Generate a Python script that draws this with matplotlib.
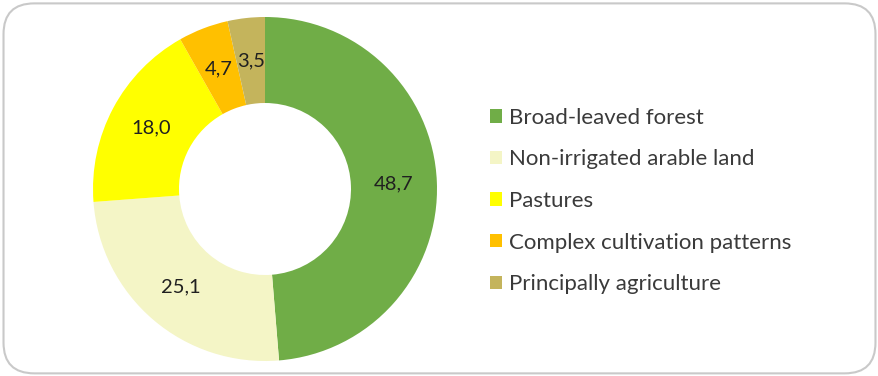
import matplotlib
matplotlib.use('Agg')
import matplotlib.pyplot as plt
import numpy as np
from matplotlib.patches import FancyBboxPatch, Patch

plt.rcParams['font.family'] = ['Lato', 'DejaVu Sans']

categories = ['Broad-leaved forest', 'Non-irrigated arable land', 'Pastures',
              'Complex cultivation patterns', 'Principally agriculture']
shares = [48.7, 25.1, 18.0, 4.7, 3.5]
colors = ['#70AD47', '#F4F5C6', '#FFFF00', '#FFC000', '#C4B45C']

fig = plt.figure(figsize=(8.79, 3.76), dpi=100)

# rounded frame around the whole chart
frame = FancyBboxPatch((0.004, 0.007), 0.992, 0.984,
                       boxstyle='round,pad=0,rounding_size=0.035',
                       transform=fig.transFigure, facecolor='none',
                       edgecolor='#c9c9c9', linewidth=1.5, mutation_aspect=879 / 376,
                       zorder=-1)
fig.patches.append(frame)

ax = fig.add_axes([93 / 879, 15 / 376, 344 / 879, 344 / 376])
wedges, texts = ax.pie(shares, colors=colors, startangle=90, counterclock=False,
                       radius=1.0, wedgeprops=dict(width=0.5, linewidth=0))
ax.set_xlim(-1, 1)
ax.set_ylim(-1, 1)
ax.set_aspect('equal')

# value labels in the middle of the ring
for w, v in zip(wedges, shares):
    ang = np.deg2rad((w.theta1 + w.theta2) / 2)
    ax.text(0.75 * np.cos(ang), 0.75 * np.sin(ang), f'{v:.1f}'.replace('.', ','),
            ha='center', va='center', fontsize=14.5, color='#202020')

handles = [Patch(facecolor=c, edgecolor='none') for c in colors]
fig.legend(handles, categories, loc='center left', bbox_to_anchor=(470 / 879, 1 - 201 / 376),
           frameon=False, fontsize=16, labelcolor='#3a3a3a',
           handlelength=0.55, handleheight=0.55, handletextpad=0.3, labelspacing=0.97)

fig.savefig('out.png', dpi=100)
